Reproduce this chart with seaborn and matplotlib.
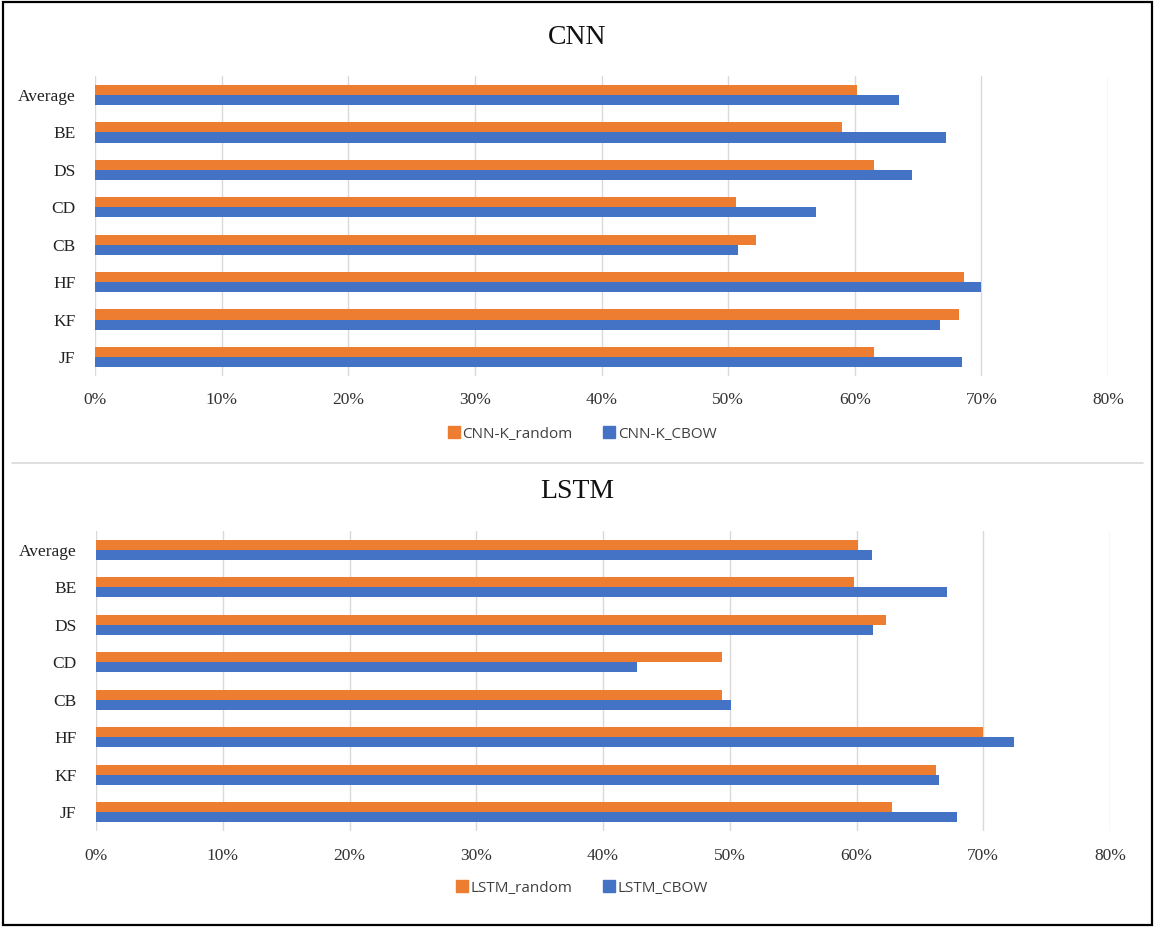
import matplotlib
matplotlib.use("Agg")
import matplotlib.pyplot as plt
import seaborn as sns
import pandas as pd
from matplotlib.ticker import PercentFormatter, MultipleLocator
from matplotlib.patches import Rectangle
from matplotlib.lines import Line2D

categories = ["Average", "BE", "DS", "CD", "CB", "HF", "KF", "JF"]

cnn_random = [0.602, 0.590, 0.615, 0.506, 0.522, 0.686, 0.682, 0.615]
cnn_cbow = [0.635, 0.672, 0.645, 0.569, 0.508, 0.700, 0.667, 0.685]

lstm_random = [0.601, 0.598, 0.623, 0.494, 0.494, 0.700, 0.663, 0.628]
lstm_cbow = [0.612, 0.671, 0.613, 0.427, 0.501, 0.724, 0.665, 0.679]

ORANGE = "#ED7D31"
BLUE = "#4472C4"
GRID = "#D9D9D9"

sns.set_theme(style="white")
plt.rcParams["font.family"] = ["Liberation Serif", "DejaVu Serif"]

fig = plt.figure(figsize=(11.55, 9.27), dpi=100)


def draw_panel(rect, title, title_y, names, random_vals, cbow_vals, legend_y):
    ax = fig.add_axes(rect)
    df = pd.DataFrame({
        "category": categories * 2,
        "value": random_vals + cbow_vals,
        "model": [names[0]] * len(categories) + [names[1]] * len(categories),
    })
    sns.barplot(data=df, y="category", x="value", hue="model",
                order=categories, hue_order=names,
                palette=[ORANGE, BLUE], saturation=1, width=0.54,
                orient="h", ax=ax, legend=False, errorbar=None,
                linewidth=0)
    ax.set_xlim(0, 0.8)
    ax.set_ylim(len(categories) - 0.5, -0.5)
    ax.xaxis.set_major_locator(MultipleLocator(0.1))
    ax.xaxis.set_major_formatter(PercentFormatter(1.0, decimals=0))
    ax.grid(axis="x", color=GRID, lw=1)
    ax.set_axisbelow(True)
    for s in ax.spines.values():
        s.set_visible(False)
    ax.set_xlabel("")
    ax.set_ylabel("")
    ax.tick_params(axis="x", length=0, pad=12, labelsize=12.5, colors="#333333")
    ax.tick_params(axis="y", length=0, pad=14, labelsize=12.5, colors="#222222")
    fig.text(0.5, title_y, title, ha="center", va="center", fontsize=20,
             color="#111111")
    handles = [Line2D([], [], marker="s", ls="", markersize=8,
                      markerfacecolor=c, markeredgecolor=c) for c in (ORANGE, BLUE)]
    fig.legend(handles, names, loc="center", bbox_to_anchor=(0.504, legend_y),
               ncol=2, frameon=False, handletextpad=0.15, columnspacing=2.0,
               handlelength=0.8,
               prop={"family": ["Open Sans", "DejaVu Sans"], "size": 11})
    for t in fig.legends[-1].get_texts():
        t.set_color("#404040")
    return ax


draw_panel([0.0823, 1 - 375.7 / 927, 0.877, (375.7 - 76.3) / 927],
           "CNN", 1 - 37 / 927, ["CNN-K_random", "CNN-K_CBOW"],
           cnn_random, cnn_cbow, 1 - 434 / 927)
draw_panel([0.0831, 1 - 831 / 927, 0.878, (831 - 531) / 927],
           "LSTM", 1 - 492 / 927, ["LSTM_random", "LSTM_CBOW"],
           lstm_random, lstm_cbow, 1 - 888 / 927)

# separator between the two panels and outer frame
fig.add_artist(Line2D([12 / 1155, 1143 / 1155], [1 - 463 / 927] * 2,
                      color=GRID, lw=1.2, transform=fig.transFigure))
fig.add_artist(Rectangle((3 / 1155, 2 / 927), 1149 / 1155, 923 / 927,
                         fill=False, edgecolor="black", lw=1.6,
                         transform=fig.transFigure))

fig.savefig("out.png", dpi=100)
